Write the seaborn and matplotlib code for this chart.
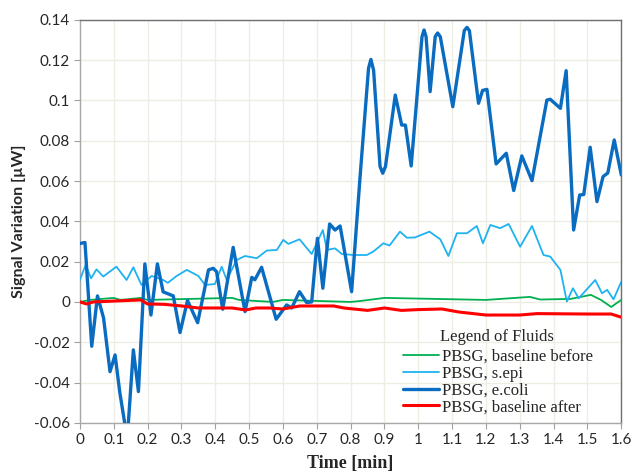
import numpy as np
import pandas as pd
import matplotlib
matplotlib.use("Agg")
import matplotlib.pyplot as plt
import seaborn as sns

# Datos (tiempo en min, senal en uW)
ecoli_t = [0, 0.015, 0.035, 0.052, 0.07, 0.089, 0.104, 0.118, 0.14, 0.158, 0.173, 0.192, 0.210,
           0.229, 0.246, 0.276, 0.296, 0.318, 0.348, 0.380, 0.394, 0.404, 0.422, 0.453, 0.488,
           0.508, 0.517, 0.537, 0.580, 0.611, 0.626, 0.649, 0.670, 0.685, 0.702, 0.718, 0.738,
           0.754, 0.769, 0.803, 0.828, 0.853, 0.860, 0.868, 0.887, 0.895, 0.903, 0.932, 0.951,
           0.962, 0.979, 1.011, 1.017, 1.023, 1.035, 1.050, 1.057, 1.065, 1.102, 1.136, 1.144,
           1.151, 1.178, 1.190, 1.203, 1.230, 1.260, 1.282, 1.306, 1.336, 1.380, 1.390, 1.420,
           1.437, 1.459, 1.477, 1.489, 1.508, 1.528, 1.546, 1.560, 1.579, 1.60]
ecoli_v = [0.029, 0.0295, -0.022, 0.003, -0.008, -0.0346, -0.0263, -0.045, -0.068, -0.0238,
           -0.0445, 0.0189, -0.0065, 0.0189, 0.005, 0.003, -0.0152, 0.0007, -0.0103, 0.0159,
           0.0167, 0.015, -0.0036, 0.0271, -0.0048, 0.0122, 0.011, 0.0172, -0.0086, -0.0015,
           -0.003, 0.0051, -0.0003, 0.0, 0.0316, 0.0068, 0.0387, 0.0357, 0.0377, 0.0051, 0.0622,
           0.116, 0.1204, 0.115, 0.0672, 0.0639, 0.0672, 0.1027, 0.0878, 0.0878, 0.0675, 0.1317,
           0.135, 0.1317, 0.1044, 0.1317, 0.1335, 0.1317, 0.0969, 0.1347, 0.1363, 0.1347, 0.0986,
           0.105, 0.1055, 0.0685, 0.0738, 0.0553, 0.0725, 0.0602, 0.1002, 0.1006, 0.0961, 0.1148,
           0.0357, 0.0531, 0.0533, 0.0768, 0.0498, 0.0622, 0.064, 0.0804, 0.063]

sepi_t = [0, 0.017, 0.033, 0.049, 0.069, 0.108, 0.138, 0.158, 0.182, 0.212, 0.246, 0.26, 0.286,
          0.316, 0.350, 0.370, 0.399, 0.419, 0.434, 0.463, 0.488, 0.523, 0.552, 0.582, 0.601,
          0.616, 0.649, 0.685, 0.718, 0.730, 0.754, 0.774, 0.808, 0.848, 0.867, 0.897, 0.915,
          0.946, 0.966, 0.990, 1.033, 1.065, 1.089, 1.114, 1.144, 1.173, 1.191, 1.213, 1.242,
          1.267, 1.301, 1.336, 1.370, 1.390, 1.420, 1.439, 1.457, 1.474, 1.523, 1.543, 1.558,
          1.577, 1.60]
sepi_v = [0.0109, 0.0184, 0.0117, 0.0162, 0.0126, 0.0175, 0.0109, 0.0172, 0.0084, 0.0129,
          0.0109, 0.0095, 0.0129, 0.0159, 0.0129, 0.0084, 0.0089, 0.0175, 0.0109, 0.0208,
          0.0228, 0.0217, 0.0255, 0.0258, 0.0308, 0.0288, 0.0311, 0.0238, 0.0357, 0.0258,
          0.0266, 0.0238, 0.0233, 0.0233, 0.025, 0.0291, 0.028, 0.0349, 0.0319, 0.032, 0.0349,
          0.0311, 0.0228, 0.0341, 0.0341, 0.0377, 0.0291, 0.0382, 0.0366, 0.0387, 0.0274,
          0.0377, 0.0233, 0.0225, 0.0159, 0.0002, 0.0068, 0.0018, 0.0109, 0.0043, 0.006,
          0.0013, 0.0101]

antes_t = [0, 0.03, 0.1, 0.12, 0.18, 0.2, 0.45, 0.47, 0.57, 0.6, 0.8, 0.83, 0.9, 1.2, 1.33,
           1.36, 1.45, 1.51, 1.54, 1.57, 1.6]
antes_v = [0, 0.001, 0.002, 0.001, 0.002, 0.001, 0.002, 0.001, 0.0, 0.001, 0.0, 0.0005,
           0.002, 0.001, 0.0025, 0.0012, 0.0015, 0.0035, 0.001, -0.0025, 0.001]

despues_t = [0, 0.02, 0.04, 0.18, 0.2, 0.25, 0.3, 0.35, 0.45, 0.49, 0.52, 0.56, 0.6, 0.65,
             0.75, 0.78, 0.85, 0.9, 0.95, 1.0, 1.07, 1.12, 1.2, 1.3, 1.35, 1.5, 1.57, 1.6]
despues_v = [0, -0.001, 0.0, 0.001, -0.001, -0.0012, -0.002, -0.003, -0.003, -0.004, -0.003,
             -0.003, -0.0035, -0.002, -0.002, -0.003, -0.0042, -0.003, -0.0042, -0.0038,
             -0.0035, -0.005, -0.0065, -0.0065, -0.0058, -0.006, -0.006, -0.0076]

x_ticks = [0, 0.1, 0.2, 0.3, 0.4, 0.5, 0.6, 0.7, 0.8, 0.9, 1, 1.1, 1.2, 1.3, 1.4, 1.5, 1.6]
y_ticks = [-0.06, -0.04, -0.02, 0, 0.02, 0.04, 0.06, 0.08, 0.1, 0.12, 0.14]

series = [
    ("PBSG, baseline before", antes_t, antes_v, "#00b050", 1.3, 3),
    ("PBSG, s.epi", sepi_t, sepi_v, "#1fb2f0", 1.3, 4),
    ("PBSG, e.coli", ecoli_t, ecoli_v, "#0a6cc0", 2.4, 5),
    ("PBSG, baseline after", despues_t, despues_v, "#ff0000", 2.2, 6),
]

sns.set_style("white")
plt.rcParams['font.family'] = ['Lato', 'DejaVu Sans']

fig, ax = plt.subplots(figsize=(6.34, 4.74), dpi=100)
fig.subplots_adjust(left=0.126, right=0.98, top=0.958, bottom=0.108)

for nombre, t, v, color, lw, z in series:
    df = pd.DataFrame({'t': t, 'v': v})
    sns.lineplot(data=df, x='t', y='v', ax=ax, color=color, linewidth=lw,
                 label=nombre, zorder=z, sort=False, solid_joinstyle='round',
                 solid_capstyle='round')

ax.set_xlim(0, 1.6)
ax.set_ylim(-0.06, 0.14)
ax.set_xticks(x_ticks)
ax.set_xticklabels(['{:g}'.format(x) for x in x_ticks])
ax.set_yticks(y_ticks)
ax.set_yticklabels(['{:g}'.format(y) for y in y_ticks])
ax.tick_params(axis='both', labelsize=11, length=4, width=0.8, color='#a0a0a0',
               direction='out', bottom=True, left=True, pad=3)
ax.grid(True, color='#eeede4', linewidth=1.0)
ax.set_axisbelow(True)
for lado in ['left', 'bottom']:
    ax.spines[lado].set_color('#a8a8a8')
for lado in ['top', 'right']:
    ax.spines[lado].set_color('#707070')
for sp in ax.spines.values():
    sp.set_linewidth(1.0)

ax.set_ylabel('Signal Variation [µW]', fontsize=11.5, fontweight='bold', labelpad=6)
ax.set_xlabel('Time [min]', fontsize=13, fontweight='bold', family='Liberation Serif',
              labelpad=6)

ley = ax.legend(loc='upper left', bbox_to_anchor=(0.596, 0.184), frameon=False,
                prop={'family': 'Liberation Serif', 'size': 12}, handlelength=2.2,
                handletextpad=0.15, labelspacing=0.05, borderpad=0, borderaxespad=0)
ax.text(0.665, 0.213, 'Legend of Fluids', transform=ax.transAxes, va='center',
        ha='left', family='Liberation Serif', fontsize=12)

plt.savefig('out.png', dpi=100)
